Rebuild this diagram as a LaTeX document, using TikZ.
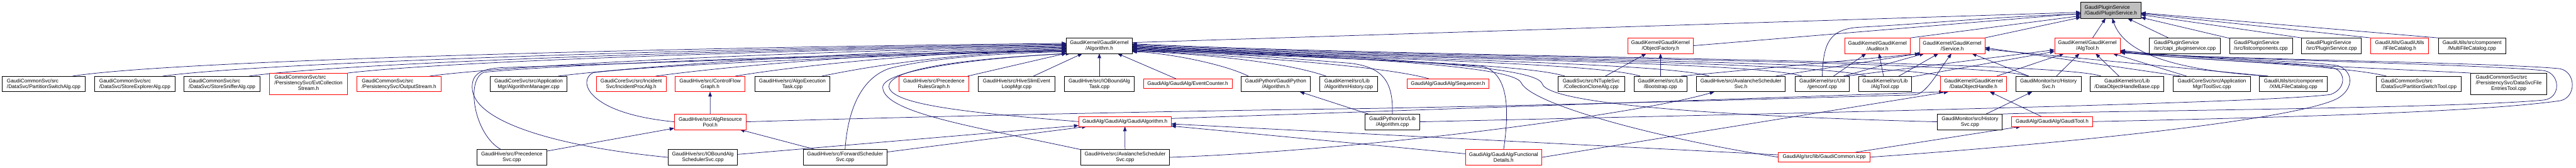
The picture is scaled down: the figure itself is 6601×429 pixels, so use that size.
\documentclass[tikz,border=0pt]{standalone}
\usepackage{fontspec}
\setmainfont{Liberation Sans}
\usetikzlibrary{arrows.meta}
\definecolor{edgeblue}{HTML}{191970}
\definecolor{truncred}{HTML}{FF0000}
\definecolor{rootgrey}{HTML}{BFBFBF}
\pgfdeclarelayer{background}
\pgfsetlayers{background,main}
\newcommand{\gn}[7]{\node[#6, minimum width={#3-#2}, minimum height={#5-#4}] (#1) at ({(#2+#3)/2},{(#4+#5)/2}) {#7};}
\begin{document}
\begin{tikzpicture}[x=1pt,y=-1pt,
  box/.style={draw=black, line width=1.3pt, fill=white, inner sep=0pt, outer sep=0pt, align=center, font=\fontsize{13.2}{14.5}\selectfont},
  boxl/.style={box, align=left},
  rbox/.style={box, draw=truncred},
  rboxl/.style={boxl, draw=truncred},
  gbox/.style={boxl, fill=rootgrey},
  edge/.style={draw=edgeblue, line width=1.2pt, -{Triangle[length=12pt,width=9pt]}}]
\useasboundingbox (0,0) rectangle (6601,429);
% row 0
\gn{P}{5332}{5486}{6}{47}{gbox}{GaudiPluginService\\/Gaudi/PluginService.h}
% row 1
\gn{A}{2733}{2901}{97}{137}{box}{GaudiKernel/GaudiKernel\\/Algorithm.h}
\gn{OF}{4171}{4339}{97}{137}{rbox}{GaudiKernel/GaudiKernel\\/ObjectFactory.h}
\gn{AU}{4727}{4895}{97}{137}{rbox}{GaudiKernel/GaudiKernel\\/Auditor.h}
\gn{SV}{4919}{5086}{97}{137}{rbox}{GaudiKernel/GaudiKernel\\/Service.h}
\gn{AT}{5265}{5433}{97}{137}{rbox}{GaudiKernel/GaudiKernel\\/AlgTool.h}
\gn{CAPI}{5508}{5689}{97}{137}{boxl}{GaudiPluginService\\/src/capi\_pluginservice.cpp}
\gn{LC}{5713}{5874}{97}{137}{boxl}{GaudiPluginService\\/src/listcomponents.cpp}
\gn{PSC}{5898}{6051}{97}{137}{boxl}{GaudiPluginService\\/src/PluginService.cpp}
\gn{IFC}{6075}{6223}{97}{137}{rbox}{GaudiUtils/GaudiUtils\\/IFileCatalog.h}
\gn{MFC}{6248}{6421}{97}{137}{box}{GaudiUtils/src/component\\/MultiFileCatalog.cpp}
% row 2
\gn{PSA}{5}{219}{195}{235}{boxl}{GaudiCommonSvc/src\\/DataSvc/PartitionSwitchAlg.cpp}
\gn{SEA}{243}{448}{195}{235}{boxl}{GaudiCommonSvc/src\\/DataSvc/StoreExplorerAlg.cpp}
\gn{SSA}{471}{667}{195}{235}{boxl}{GaudiCommonSvc/src\\/DataSvc/StoreSnifferAlg.cpp}
\gn{ECS}{690}{891}{187}{242}{rbox}{\begin{tabular}{@{}l@{}}GaudiCommonSvc/src\\/PersistencySvc/EvtCollection\\\multicolumn{1}{@{}c@{}}{Stream.h}\end{tabular}}
\gn{OS}{915}{1130}{195}{235}{rboxl}{GaudiCommonSvc/src\\/PersistencySvc/OutputStream.h}
\gn{AM}{1256}{1453}{195}{235}{box}{GaudiCoreSvc/src/Application\\Mgr/AlgorithmManager.cpp}
\gn{IPA}{1528}{1707}{195}{235}{rbox}{GaudiCoreSvc/src/Incident\\Svc/IncidentProcAlg.h}
\gn{CFG}{1730}{1909}{195}{235}{rbox}{GaudiHive/src/ControlFlow\\Graph.h}
\gn{AET}{1934}{2127}{195}{235}{box}{GaudiHive/src/AlgoExecution\\Task.cpp}
\gn{PRG}{2304}{2482}{195}{235}{rbox}{GaudiHive/src/Precedence\\RulesGraph.h}
\gn{HSE}{2507}{2703}{195}{235}{box}{GaudiHive/src/HiveSlimEvent\\LoopMgr.cpp}
\gn{IOT}{2728}{2906}{195}{235}{box}{GaudiHive/src/IOBoundAlg\\Task.cpp}
\gn{EC}{2930}{3157}{202}{227}{rbox}{GaudiAlg/GaudiAlg/EventCounter.h}
\gn{GPA}{3181}{3357}{195}{235}{box}{GaudiPython/GaudiPython\\/Algorithm.h}
\gn{AH}{3382}{3530}{195}{235}{boxl}{GaudiKernel/src/Lib\\/AlgorithmHistory.cpp}
\gn{SEQ}{3606}{3815}{202}{227}{rbox}{GaudiAlg/GaudiAlg/Sequencer.h}
\gn{CCA}{3992}{4163}{195}{235}{box}{GaudiSvc/src/NTupleSvc\\/CollectionCloneAlg.cpp}
\gn{BS}{4187}{4323}{195}{235}{box}{GaudiKernel/src/Lib\\/Bootstrap.cpp}
\gn{ASH}{4347}{4575}{195}{235}{box}{GaudiHive/src/AvalancheScheduler\\Svc.h}
\gn{GC}{4600}{4739}{195}{235}{box}{GaudiKernel/src/Util\\/genconf.cpp}
\gn{ATC}{4763}{4898}{195}{235}{box}{GaudiKernel/src/Lib\\/AlgTool.cpp}
\gn{DOH}{4973}{5141}{195}{235}{rbox}{GaudiKernel/GaudiKernel\\/DataObjectHandle.h}
\gn{HS}{5165}{5333}{195}{235}{box}{GaudiMonitor/src/History\\Svc.h}
\gn{DOHB}{5356}{5545}{195}{235}{box}{GaudiKernel/src/Lib\\/DataObjectHandleBase.cpp}
\gn{TS}{5569}{5767}{195}{235}{box}{GaudiCoreSvc/src/Application\\Mgr/ToolSvc.cpp}
\gn{XMLFC}{5790}{5964}{195}{235}{box}{GaudiUtils/src/component\\/XMLFileCatalog.cpp}
\gn{PST}{6089}{6307}{195}{235}{boxl}{GaudiCommonSvc/src\\/DataSvc/PartitionSwitchTool.cpp}
\gn{DSFET}{6331}{6526}{187}{242}{box}{\begin{tabular}{@{}l@{}}GaudiCommonSvc/src\\/PersistencySvc/DataSvcFile\\\multicolumn{1}{@{}c@{}}{EntriesTool.cpp}\end{tabular}}
% row 3
\gn{ARP}{1728}{1912}{292}{332}{rbox}{GaudiHive/src/AlgResource\\Pool.h}
\gn{GA}{2764}{3001}{299}{324}{rbox}{GaudiAlg/GaudiAlg/GaudiAlgorithm.h}
\gn{GPC}{3498}{3638}{292}{332}{box}{GaudiPython/src/Lib\\/Algorithm.cpp}
\gn{HSC}{4965}{5131}{292}{332}{box}{GaudiMonitor/src/History\\Svc.cpp}
\gn{GT}{5155}{5362}{299}{324}{rbox}{GaudiAlg/GaudiAlg/GaudiTool.h}
% row 4
\gn{PSvc}{1222}{1401}{383}{423}{box}{GaudiHive/src/Precedence\\Svc.cpp}
\gn{IOS}{1712}{1890}{383}{423}{box}{GaudiHive/src/IOBoundAlg\\SchedulerSvc.cpp}
\gn{FS}{2058}{2273}{383}{423}{box}{GaudiHive/src/ForwardScheduler\\Svc.cpp}
\gn{ASC}{2769}{2997}{383}{423}{box}{GaudiHive/src/AvalancheScheduler\\Svc.cpp}
\gn{FD}{3755}{3951}{383}{423}{rbox}{GaudiAlg/GaudiAlg/Functional\\Details.h}
\gn{GCI}{4557}{4792}{390}{415}{rbox}{GaudiAlg/src/lib/GaudiCommon.icpp}

\begin{pgfonlayer}{background}
% ---- into PluginService.h
\draw[edge] ([yshift=8pt]A.east) -- ([yshift=-5pt]P.west);
\draw[edge] (OF.east) -- ([yshift=-8pt]P.west);
\draw[edge] (GC.north) .. controls (4672,110) and (4688,76) .. (4760,70) .. controls (4950,60) and (5150,40) .. ([yshift=-10pt]P.west);
\draw[edge] (AU.north east) -- ([yshift=-14pt]P.west);
\draw[edge] (SV.north east) -- ([yshift=-18pt]P.west);
\draw[edge] (AT) -- (P);
\draw[edge] ([xshift=22pt]XMLFC.north west) .. controls (5580,180) and (5445,140) .. (P.-80);
\draw[edge] (CAPI) -- (P);
\draw[edge] (LC) -- (P);
\draw[edge] (PSC.north west) -- (P);
\draw[edge] (IFC.north west) -- (P);
\draw[edge] (MFC.north west) -- (P);
% ---- into Algorithm.h from the left
\draw[edge] ([xshift=-33pt]PSA.north east) .. controls +(250,-40) and +(-1000,10) .. ([yshift=6pt]A.west);
\draw[edge] ([xshift=-31pt]SEA.north east) .. controls +(250,-35) and +(-900,10) .. ([yshift=4pt]A.west);
\draw[edge] ([xshift=-29pt]SSA.north east) .. controls +(250,-35) and +(-800,10) .. ([yshift=2pt]A.west);
\draw[edge] (ECS.north east) .. controls +(250,-30) and +(-700,10) .. (A.west);
\draw[edge] ([xshift=-29pt]OS.north east) .. controls +(200,-28) and +(-650,10) .. ([yshift=-2pt]A.west);
\draw[edge] ([xshift=-23pt]AM.north east) .. controls +(200,-25) and +(-550,10) .. ([yshift=-4pt]A.west);
\draw[edge] ([xshift=-27pt]IPA.north east) .. controls +(180,-25) and +(-450,10) .. ([yshift=-6pt]A.west);
\draw[edge] ([xshift=-25pt]CFG.north east) .. controls +(150,-25) and +(-380,10) .. ([yshift=-8pt]A.west);
\draw[edge] ([xshift=-21pt]AET.north east) .. controls +(120,-25) and +(-300,10) .. ([yshift=-10pt]A.west);
\draw[edge] ([xshift=62pt]PSvc.north west) .. controls (1215,345) and (1192,205) .. (1240,185) .. controls (1500,160) and (2300,135) .. ([yshift=-12pt]A.west);
\draw[edge] (IOS.west) .. controls (1420,375) and (1212,310) .. (1210,225) .. controls (1209,190) and (1230,176) .. (1290,173) .. controls (1700,160) and (2300,138) .. ([yshift=-13pt]A.west);
\draw[edge] (ARP.west) .. controls (1500,290) and (1480,205) .. (1520,186) .. controls (1700,165) and (2300,140) .. ([yshift=-14pt]A.west);
\draw[edge] (FS.north) .. controls (2172,285) and (2205,200) .. (2280,175) .. controls (2400,145) and (2600,135) .. ([yshift=-16pt]A.west);
\draw[edge] (ASC.north west) .. controls (2500,325) and (2268,290) .. (2262,225) .. controls (2258,180) and (2500,150) .. (A.south west);
\draw[edge] (GA.west) .. controls (2500,290) and (2283,270) .. (2278,222) .. controls (2276,175) and (2480,150) .. ([xshift=10pt]A.south west);
\draw[edge] (PRG) -- (A);
\draw[edge] (HSE) -- (A);
\draw[edge] (IOT) -- (A);
\draw[edge] (EC) -- (A);
% ---- into Algorithm.h from the right
\draw[edge] ([xshift=18pt]GPA.north west) .. controls +(-60,-30) and +(100,5) .. ([yshift=-15pt]A.east);
\draw[edge] ([xshift=16pt]AH.north west) .. controls +(-100,-35) and +(200,10) .. ([yshift=-13pt]A.east);
\draw[edge] ([xshift=57pt]SEQ.north west) .. controls +(-120,-35) and +(250,15) .. ([yshift=-11pt]A.east);
\draw[edge] ([xshift=18pt]CCA.north west) .. controls +(-120,-38) and +(330,20) .. ([yshift=-9pt]A.east);
\draw[edge] ([xshift=16pt]BS.north west) .. controls +(-120,-38) and +(400,22) .. ([yshift=-7pt]A.east);
\draw[edge] ([xshift=33pt]ASH.north west) .. controls +(-120,-38) and +(450,25) .. ([yshift=-5pt]A.east);
\draw[edge] ([xshift=17pt]GC.north west) .. controls +(-120,-40) and +(500,28) .. ([yshift=-3pt]A.east);
\draw[edge] ([xshift=19pt]ATC.north west) .. controls +(-120,-40) and +(560,30) .. ([yshift=-1pt]A.east);
\draw[edge] (DOH.north west) .. controls +(-120,-40) and +(620,32) .. ([yshift=1pt]A.east);
\draw[edge] ([xshift=33pt]HS.north west) .. controls +(-120,-42) and +(700,34) .. ([yshift=3pt]A.east);
\draw[edge] ([xshift=28pt]DOHB.north west) .. controls +(-120,-42) and +(750,36) .. ([yshift=5pt]A.east);
\draw[edge] (GPC.north) .. controls (3570,210) and (3545,172) .. (3460,162) .. controls (3250,145) and (3050,130) .. ([yshift=-14pt]A.east);
\draw[edge] (FD.north) .. controls (3868,280) and (3866,190) .. (3800,170) .. controls (3500,150) and (3100,132) .. ([yshift=-10pt]A.east);
\draw[edge] (GCI.west) .. controls (4250,355) and (3925,268) .. (3898,212) .. controls (3880,172) and (3550,150) .. ([yshift=-6pt]A.east);
\draw[edge] (HSC.west) .. controls (4500,300) and (3972,272) .. (3952,215) .. controls (3940,172) and (3600,150) .. ([yshift=-2pt]A.east);
% ---- GaudiHive internals
\draw[edge] (ARP) -- (CFG);
\draw[edge] (PSvc) -- (ARP);
\draw[edge] (FS) -- (ARP);
\draw[edge] (IOS) -- (GA);
\draw[edge] (FS) -- (GA);
\draw[edge] (ASC) -- (GA);
\draw[edge] (ASC.east) .. controls (3500,385) and (4200,292) .. (ASH);
\draw[edge] (ARP.east) .. controls (2300,300) and (3000,284) .. (3500,278) .. controls (4200,265) and (4700,248) .. (4905,243) .. controls (4935,242) and (4962,190) .. (SV.-95);
% ---- algorithms, tools, handles
\draw[edge] (GPC) -- (GPA);
\draw[edge] ([yshift=8pt]GA.east) -- ([xshift=8pt]DOH.south west);
\draw[edge] (FD.east) -- ([xshift=20pt]DOH.south west);
\draw[edge] (GT) -- (DOH);
\draw[edge] (GCI) -- (GA);
\draw[edge] (FD) -- (GA);
\draw[edge] (GCI) -- (GT);
\draw[edge] (HSC) -- (HS);
\draw[edge] (HS) -- (SV);
\draw[edge] (HS) -- (AT);
\draw[edge] (DOH) -- (AT);
\draw[edge] (DOHB) -- (AT);
\draw[edge] (ATC) -- (AU);
\draw[edge] (ATC) -- (SV);
\draw[edge] (ATC.15) -- (AT);
\draw[edge] (GC) -- (AU);
\draw[edge] ([xshift=-15pt]GC.north east) -- (SV);
\draw[edge] ([xshift=-8pt]GC.north east) -- (AT);
\draw[edge] (CCA) -- (OF);
\draw[edge] (BS) -- (OF);
\draw[edge] ([xshift=-16pt]BS.north east) -- ([xshift=7pt]SV.south west);
\draw[edge] ([xshift=-25pt]ASH.north east) -- (SV.south west);
\draw[edge] ([xshift=19pt]TS.north west) -- ([yshift=-5pt]SV.east);
\draw[edge] (TS) -- (AT);
\draw[edge] ([xshift=22pt]XMLFC.north west) -- ([yshift=-9pt]SV.east);
% ---- into AlgTool.h from the right, incl. loops
\draw[edge] ([xshift=26pt]PST.north west) .. controls (6000,165) and (5560,152) .. ([yshift=-14pt]AT.east);
\draw[edge] (DSFET.north west) .. controls (6150,178) and (5560,152) .. ([yshift=-15pt]AT.east);
\draw[edge] (GPC.east) .. controls (4500,292) and (5800,265) .. (5972,242) .. controls (6012,228) and (6012,185) .. (5980,174) .. controls (5880,158) and (5640,152) .. ([yshift=-12pt]AT.east);
\draw[edge] (GCI.east) .. controls (5400,360) and (5900,300) .. (5990,252) .. controls (6032,228) and (6032,182) .. (5990,168) .. controls (5900,155) and (5650,152) .. ([yshift=-13pt]AT.east);
\draw[edge] (HSC.north east) .. controls (5300,285) and (6300,278) .. (6520,256) .. controls (6562,250) and (6562,190) .. (6520,181) .. controls (6380,165) and (5680,152) .. ([yshift=-16.5pt]AT.east);
\draw[edge] (GT.east) .. controls (5800,302) and (6350,288) .. (6560,258) .. controls (6602,250) and (6602,185) .. (6560,176) .. controls (6400,160) and (5700,152) .. ([yshift=-18pt]AT.east);
\end{pgfonlayer}
\end{tikzpicture}
\end{document}
